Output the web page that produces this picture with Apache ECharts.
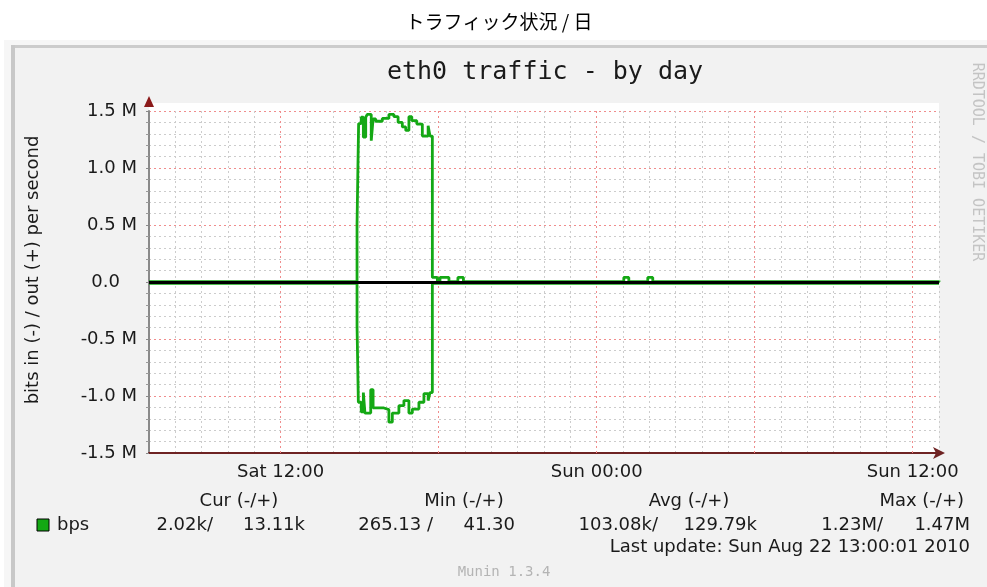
<!DOCTYPE html>
<html>
<head>
<meta charset="utf-8">
<title>eth0 traffic - by day</title>
<script src="https://cdn.jsdelivr.net/npm/echarts/dist/echarts.min.js"></script>
<style>
  html, body { margin: 0; padding: 0; background: #fff; }
  #main { width: 987px; height: 587px; }
</style>
</head>
<body>
<div id="main"></div>
<script>
// hours since Sat 00:00 (Aug 21 2010); window is Sat 07:00 .. Sun 13:00
const startHour = 7;
const endHour = 37;

// out (+), bits/s, value holds from this hour on
const outHours = [7, 14.90, 14.96, 15.06, 15.14, 15.23, 15.29, 15.44, 15.51, 15.61, 15.86, 16.11, 16.30, 16.46, 16.62, 16.75, 16.87, 16.98, 17.17, 17.38, 17.60, 17.67, 17.76, 17.95, 18.05, 18.39, 18.73, 18.94, 25.03, 25.22, 25.94, 26.13, 37];
const outValues = [2500, 510000, 1390000, 1445000, 1270000, 1445000, 1470000, 1240000, 1430000, 1410000, 1435000, 1470000, 1450000, 1400000, 1360000, 1330000, 1450000, 1415000, 1385000, 1280000, 1370000, 1280000, 40000, 3000, 40000, 3000, 40000, 3000, 40000, 3000, 40000, 3000, 13110];

// in (-), bits/s, drawn below zero
const inHours = [7, 14.90, 14.95, 15.06, 15.14, 15.20, 15.42, 15.51, 15.92, 16.11, 16.24, 16.49, 16.68, 16.87, 17.00, 17.25, 17.44, 17.60, 17.67, 17.76, 37];
const inValues = [12000, 383000, 1055000, 1140000, 970000, 1150000, 945000, 1105000, 1120000, 1230000, 1150000, 1085000, 1040000, 1150000, 1115000, 1055000, 980000, 1040000, 970000, 12000, 12000];

// axes
const majorHours = [12, 18, 24, 30, 36];
const xTickHours = [12, 24, 36];
const xTickLabels = ['Sat 12:00', 'Sun 00:00', 'Sun 12:00'];
const yMin = -1500000, yMax = 1500000, yStep = 500000;

// legend table
const legendHeads = ['Cur (-/+)', 'Min (-/+)', 'Avg (-/+)', 'Max (-/+)'];
const legendIn = ['2.02k/', '265.13 /', '103.08k/', '1.23M/'];
const legendOut = ['13.11k', '41.30', '129.79k', '1.47M'];

const green = '#14a814';
const font = 'DejaVu Sans';
const mono = 'DejaVu Sans Mono';

const chart = echarts.init(document.getElementById('main'));

const outData = outHours.map((h, i) => [h, outValues[i]]);
const inData = inHours.map((h, i) => [h, -inValues[i]]);

// legend column positions
const headX = [239, 464, 689, 964];
const headAlign = ['center', 'center', 'center', 'right'];
const inRight = [213, 433, 658, 883];
const outRight = [305, 515, 757, 970];

function txt(text, x, y, opt) {
  return {
    type: 'text', x: x, y: y, silent: true,
    style: Object.assign({ text: text, fontFamily: font, fontSize: 18, fill: '#1a1a1a', align: 'left', verticalAlign: 'middle' }, opt || {})
  };
}

const graphics = [
  // frame
  { type: 'rect', z: -10, silent: true, shape: { x: 4, y: 40, width: 983, height: 547 }, style: { fill: '#f6f6f6' } },
  { type: 'rect', z: -9, silent: true, shape: { x: 11, y: 45, width: 976, height: 542 }, style: { fill: '#f2f2f2' } },
  { type: 'rect', z: -8, silent: true, shape: { x: 11, y: 45, width: 976, height: 3 }, style: { fill: '#cccccc' } },
  { type: 'rect', z: -8, silent: true, shape: { x: 11, y: 45, width: 4, height: 542 }, style: { fill: '#c8c8c8' } },
  // canvas above top grid line
  { type: 'rect', z: -7, silent: true, shape: { x: 149, y: 103, width: 790, height: 9 }, style: { fill: '#ffffff' } },
  // y axis arrow
  { type: 'polygon', z: 10, silent: true, shape: { points: [[144, 107], [154, 107], [149, 96]] }, style: { fill: '#8b1a1a' } },
  // page heading
  txt('トラフィック状況 / 日', 499, 22, { fontFamily: 'Noto Sans CJK JP', fontSize: 19, fill: '#000', align: 'center' }),
  // graph title
  txt('eth0 traffic - by day', 545, 72, { fontFamily: mono, fontSize: 25, fill: '#1a1a1a', align: 'center' }),
  // vertical axis name
  Object.assign(txt('bits in (-) / out (+) per second', 33, 270, { align: 'center' }), { rotation: Math.PI / 2 }),
  // watermark
  Object.assign(txt('RRDTOOL / TOBI OETIKER', 977, 162, { fontFamily: mono, fontSize: 15, fill: '#c4c4c4', align: 'center' }), { rotation: -Math.PI / 2 }),
  txt('Munin 1.3.4', 504, 572, { fontFamily: mono, fontSize: 14, fill: '#b4b4b4', align: 'center' }),
  // legend
  { type: 'rect', silent: true, shape: { x: 37, y: 519, width: 12, height: 12 }, style: { fill: green, stroke: '#000', lineWidth: 1 } },
  txt('bps', 57, 525),
  txt('Last update: Sun Aug 22 13:00:01 2010', 970, 547, { align: 'right' })
];
legendHeads.forEach((h, i) => {
  graphics.push(txt(h, headX[i], 501, { align: headAlign[i] }));
  graphics.push(txt(legendIn[i], inRight[i], 525, { align: 'right' }));
  graphics.push(txt(legendOut[i], outRight[i], 525, { align: 'right' }));
});

const option = {
  animation: false,
  backgroundColor: '#ffffff',
  graphic: graphics,
  grid: {
    left: 149, right: 48, top: 111, bottom: 134,
    show: true, backgroundColor: '#ffffff', borderWidth: 0
  },
  xAxis: {
    type: 'value',
    min: startHour, max: endHour, interval: 1,
    axisLine: {
      show: true, onZero: false,
      symbol: ['none', 'arrow'], symbolSize: [9, 12], symbolOffset: [0, 6],
      lineStyle: { color: '#6e2323', width: 2 }
    },
    axisTick: { show: false },
    axisLabel: {
      margin: 10, fontFamily: font, fontSize: 18, color: '#1a1a1a',
      formatter: function (v) {
        const k = xTickHours.indexOf(v);
        return k >= 0 ? xTickLabels[k] : '';
      }
    },
    splitLine: { show: true, lineStyle: { color: '#cccccc', type: [2, 3], width: 1 } }
  },
  yAxis: {
    type: 'value',
    min: yMin, max: yMax, interval: yStep,
    axisLine: { show: true, onZero: false, lineStyle: { color: '#8a8a8a', width: 2 } },
    axisTick: { show: true, length: 3, lineStyle: { color: '#8a8a8a' } },
    minorTick: { show: true, splitNumber: 5, length: 3, lineStyle: { color: '#9a9a9a' } },
    axisLabel: {
      margin: 12, fontFamily: font, fontSize: 18, color: '#1a1a1a',
      formatter: function (v) {
        if (v === 0) return '0.0   ';
        return (v / 1e6).toFixed(1) + ' M';
      }
    },
    splitLine: { show: true, lineStyle: { color: '#f08c8c', type: [2, 3], width: 1 } },
    minorSplitLine: { show: true, lineStyle: { color: '#cccccc', type: [2, 3], width: 1 } }
  },
  series: [
    {
      name: 'out', type: 'line', step: 'end', data: outData,
      showSymbol: false, symbol: 'none', z: 3,
      lineStyle: { color: green, width: 2.8 },
      markLine: {
        z: 1, silent: true, symbol: ['none', 'none'], label: { show: false },
        lineStyle: { color: '#f08c8c', type: [2, 3], width: 1 },
        data: majorHours.map(h => ({ xAxis: h }))
      }
    },
    {
      name: 'in', type: 'line', step: 'end', data: inData,
      showSymbol: false, symbol: 'none', z: 3,
      lineStyle: { color: green, width: 2.8 },
      markLine: {
        z: 6, silent: true, symbol: ['none', 'none'], label: { show: false },
        lineStyle: { color: '#000000', type: 'solid', width: 3 },
        data: [{ yAxis: 0 }]
      }
    }
  ]
};

chart.setOption(option);
</script>
</body>
</html>
